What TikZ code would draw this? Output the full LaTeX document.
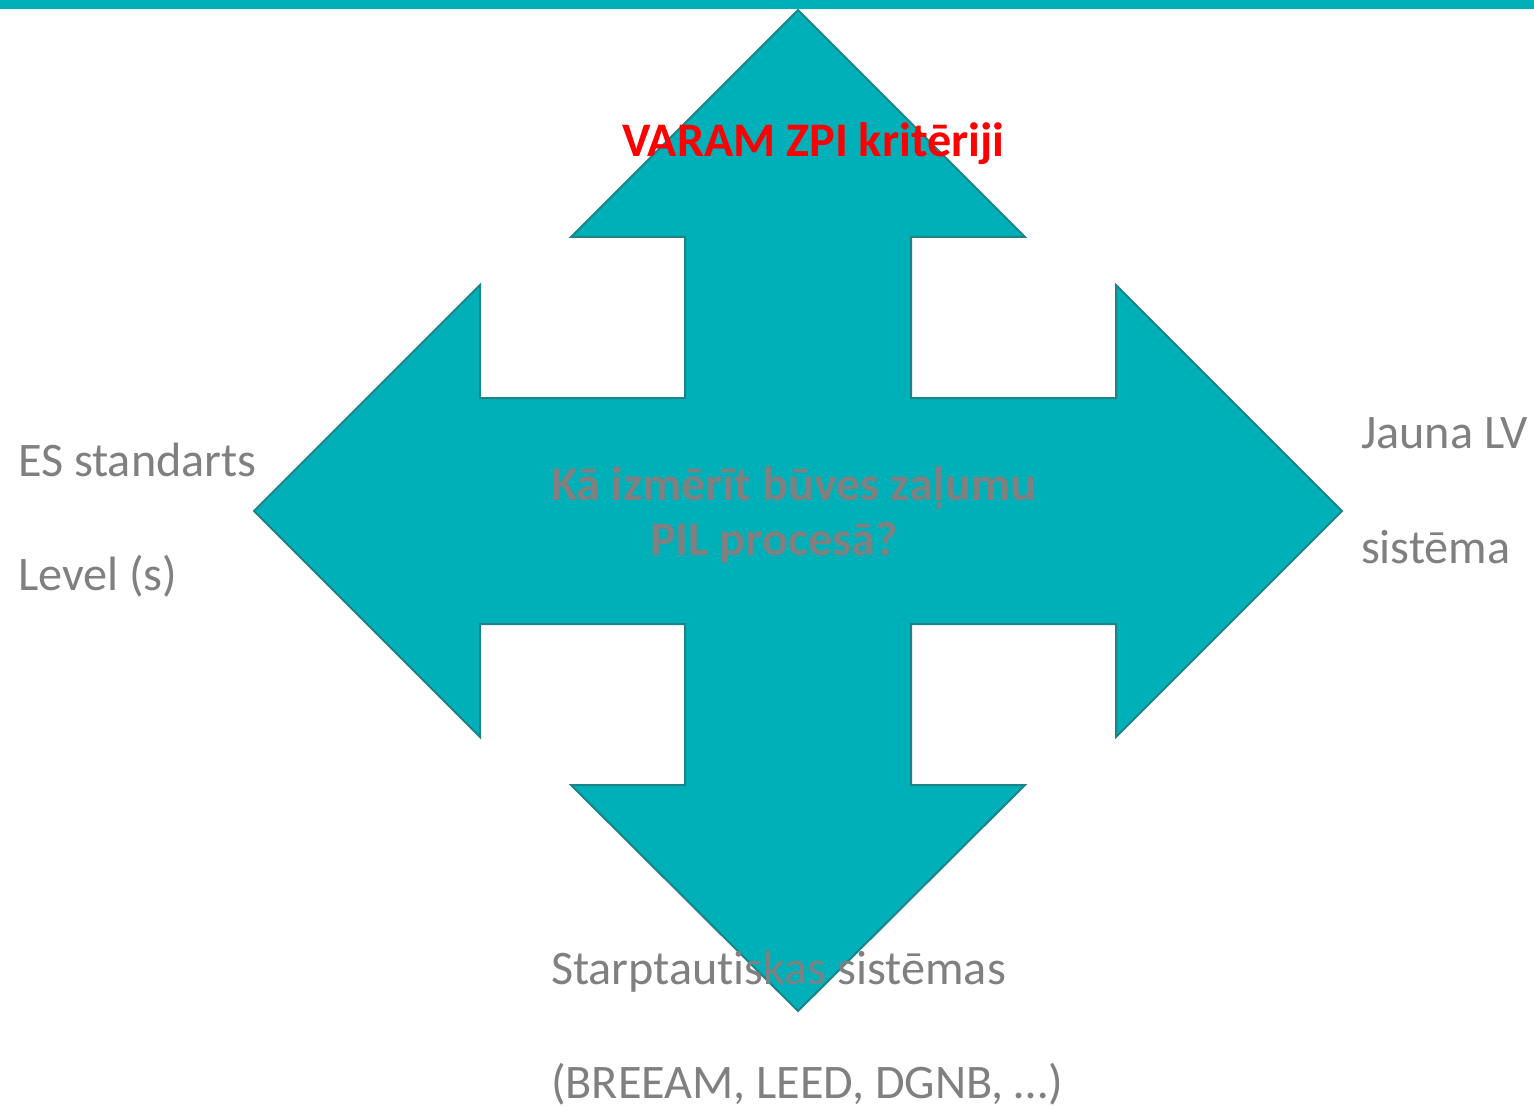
\documentclass[tikz,border=0pt]{standalone}
\usepackage{fontspec}
\setmainfont[Ligatures=NoCommon]{Carlito}
\definecolor{teal1}{HTML}{00B0B9}
\definecolor{tealdark}{HTML}{1A8488}
\definecolor{txtgray}{HTML}{808080}
\definecolor{txtred}{HTML}{FF0000}
\begin{document}
\begin{tikzpicture}[x=1pt,y=-1pt,
  lbl/.style={anchor=base west,inner sep=0pt,outer sep=0pt,text=txtgray,font=\fontsize{48.2}{55}\selectfont},
  lblbold/.style={lbl,font=\fontsize{48.2}{55}\selectfont\bfseries},
  arrowshape/.style={fill=teal1,draw=tealdark,line width=2pt,line join=miter}]
\useasboundingbox (0,0) rectangle (1534,1107);
\fill[white] (0,0) rectangle (1534,1107);
\fill[teal1] (0,0) rectangle (1534,9);
\draw[arrowshape] (798,10) -- (1025,237) -- (911,237) -- (911,398) -- (1116,398) -- (1116,285)
  -- (1342,511) -- (1116,737) -- (1116,624) -- (911,624) -- (911,785) -- (1025,785)
  -- (798,1011) -- (571,785) -- (685,785) -- (685,624) -- (480,624) -- (480,737)
  -- (254,511) -- (480,285) -- (480,398) -- (685,398) -- (685,237) -- (571,237) -- cycle;
\node[lblbold,text=txtred] (top) at (622,157) {VARAM ZPI kritēriji};
\node[lblbold] (c1) at (551,500) {Kā izmērīt būves zaļumu};
\node[lblbold] (c2) at (650,555) {PIL procesā?};
\node[lbl] (l1) at (18,476) {ES standarts};
\node[lbl] (l2) at (18,590) {Level (s)};
\node[lbl] (r1) at (1361,448) {Jauna LV};
\node[lbl] (r2) at (1361,563) {sistēma};
\node[lbl] (b1) at (551,984) {Starptautiskas sistēmas};
\node[lbl] (b2) at (551,1098) {(BREEAM, LEED, DGNB, …)};
\end{tikzpicture}
\end{document}
